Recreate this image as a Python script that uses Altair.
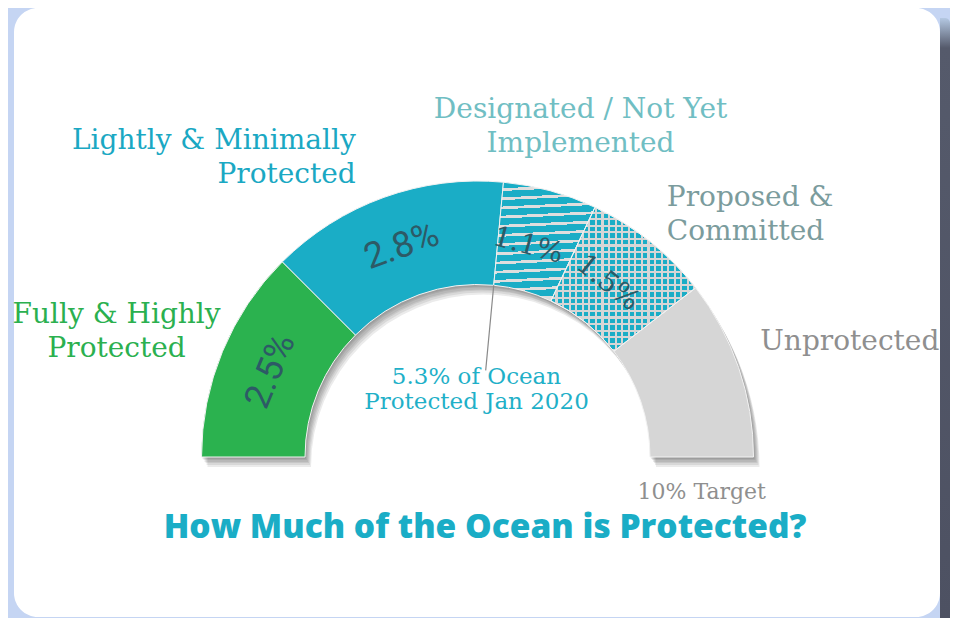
import math
import pandas as pd
import altair as alt

# ---------------- data ----------------
categories = [
    "Fully & Highly Protected",
    "Lightly & Minimally Protected",
    "Designated / Not Yet Implemented",
    "Proposed & Committed",
    "Unprotected",
]
values = [2.5, 2.8, 1.1, 1.5, 2.1]
label_text = [
    "Fully & Highly\nProtected",
    "Lightly & Minimally\nProtected",
    "Designated / Not Yet\nImplemented",
    "Proposed &\nCommitted",
    "Unprotected",
]
target = 10
date_label = "Jan 2020"
title_text = "How Much of the Ocean is Protected?"

# ---------------- derived table ----------------
df = pd.DataFrame({"category": categories, "value": values, "label": label_text})
df["end"] = df["value"].cumsum()
df["start"] = df["end"] - df["value"]
df["mid"] = (df["start"] + df["end"]) / 2
df["angle"] = (df["mid"] / target * 180 - 90) % 360
df["pct"] = [f"{v:.1f}%" for v in values]
protected = values[0] + values[1]

# ---------------- styles ----------------
VIEW_W, VIEW_H = 926, 609
CX, CY = 463.5, 449.0
R_OUT, R_IN = 276, 172.5
TEAL = "#1aadc6"
GREEN = "#2bb24f"
GRAY = "#d6d6d6"
LIGHT = "#dedede"
SEP = "#f2f2f2"
PCT_COLOR = "#2d5a66"
SERIF = "DejaVu Serif"
LABEL_LH = 34

seg_colors = [GREEN, TEAL, TEAL, TEAL, GRAY]
label_style = {
    categories[0]: dict(color="#2bb04f", radius=330, align="center", dx=-56, dy=1),
    categories[1]: dict(color="#1aa8c3", radius=318, align="right", dx=-14, dy=0),
    categories[2]: dict(color="#70bec3", radius=345, align="center", dx=12, dy=3),
    categories[3]: dict(color="#7b9c9d", radius=314, align="left", dx=-7, dy=3),
    categories[4]: dict(color="#8f8f8f", radius=301, align="left", dx=-2, dy=-18),
}

theta_scale = alt.Scale(domain=[0, target], range=[-math.pi / 2, math.pi / 2])


def band_gradient(pattern, n, x2, y2):
    stops = []
    for i in range(n):
        pos = i / n
        for color, frac in pattern:
            stops.append(alt.GradientStop(offset=round(min(pos, 1), 5), color=color))
            pos += frac / n
            stops.append(alt.GradientStop(offset=round(min(pos, 1), 5), color=color))
    return alt.LinearGradient(gradient="linear", stops=stops, x1=0, y1=0, x2=x2, y2=y2)


hatch_fill = band_gradient([(TEAL, 0.7), (LIGHT, 0.3)], 13, 0.04, 1)
dots_rows = band_gradient([(TEAL, 0.68), (GRAY, 0.32)], 22, 0, 1)
dots_cols = band_gradient([("rgba(214,214,214,0)", 0.68), (GRAY, 0.32)], 22, 1, 0)

base = alt.Chart(df)
pos = dict(x=alt.value(CX), y=alt.value(CY))
arc_theta = dict(
    theta=alt.Theta("start:Q", scale=theta_scale, stack=None),
    theta2=alt.Theta2("end:Q"),
)

layers = []

# right-hand card shadow strip
strip_fill = alt.LinearGradient(
    gradient="linear",
    stops=[
        alt.GradientStop(offset=0, color="#b4c8e2"),
        alt.GradientStop(offset=0.05, color="#555a6b"),
        alt.GradientStop(offset=1, color="#4d5162"),
    ],
    x1=0, y1=0, x2=0, y2=1,
)
layers.append(
    alt.Chart(pd.DataFrame({"k": [0]}))
    .mark_rect(fill=strip_fill, cornerRadiusTopRight=10)
    .encode(x=alt.value(VIEW_W), x2=alt.value(VIEW_W + 10), y=alt.value(10), y2=alt.value(VIEW_H + 1))
)

# soft drop shadow of the gauge
shadow_base = base.transform_aggregate(start="min(start)", end="max(end)")
for sdx, sdy in [(1, 2), (2, 3), (3, 5), (4, 6), (5, 8), (6, 10)]:
    layers.append(
        shadow_base.mark_arc(radius=R_OUT, radius2=R_IN, color="#222222", opacity=0.09)
        .encode(x=alt.value(CX + sdx), y=alt.value(CY + sdy), **arc_theta)
    )

# solid segments
layers.append(
    base.transform_filter(
        alt.FieldOneOfPredicate(field="category", oneOf=[categories[0], categories[1], categories[4]])
    )
    .mark_arc(radius=R_OUT, radius2=R_IN, stroke=SEP, strokeWidth=1)
    .encode(
        color=alt.Color("category:N", scale=alt.Scale(domain=categories, range=seg_colors), legend=None),
        **arc_theta, **pos,
    )
)

# hatched segment
layers.append(
    base.transform_filter(alt.datum.category == categories[2])
    .mark_arc(radius=R_OUT, radius2=R_IN, fill=hatch_fill, stroke=SEP, strokeWidth=1)
    .encode(**arc_theta, **pos)
)

# dotted segment (rows + columns)
for g in (dots_rows, dots_cols):
    layers.append(
        base.transform_filter(alt.datum.category == categories[3])
        .mark_arc(radius=R_OUT, radius2=R_IN, fill=g, stroke=SEP, strokeWidth=1)
        .encode(**arc_theta, **pos)
    )

# marker line at the protected total
layers.append(
    base.transform_filter(alt.datum.category == categories[1])
    .mark_arc(radius=R_IN, radius2=87, fillOpacity=0, stroke="#8a8a8a", strokeWidth=1.2)
    .encode(
        theta=alt.Theta("end:Q", scale=theta_scale, stack=None),
        theta2=alt.Theta2("end:Q"),
        **pos,
    )
)

# percentage labels on the ring
pct_theta = alt.Theta("mid:Q", scale=theta_scale, stack=None)
layers.append(
    base.transform_filter(
        alt.FieldOneOfPredicate(field="category", oneOf=[categories[0], categories[1]])
    )
    .mark_text(radius=224, font="Roboto", fontSize=36, color=PCT_COLOR, align="center", baseline="middle")
    .encode(theta=pct_theta, text="pct:N", angle=alt.Angle("angle:Q", scale=None), **pos)
)
layers.append(
    base.transform_filter(
        alt.FieldOneOfPredicate(field="category", oneOf=[categories[2], categories[3]])
    )
    .mark_text(radius=212, dx=-7, dy=-5, font=SERIF, fontSize=28, color=PCT_COLOR,
               align="center", baseline="middle")
    .encode(theta=pct_theta, text="pct:N", angle=alt.Angle("angle:Q", scale=None), **pos)
)

# category labels around the gauge
for cat, txt in zip(categories, label_text):
    st = label_style[cat]
    n_lines = txt.count("\n") + 1
    layers.append(
        base.transform_filter(alt.datum.category == cat)
        .mark_text(
            radius=st["radius"], align=st["align"], baseline="middle",
            dx=st["dx"], dy=st["dy"] - (n_lines - 1) * LABEL_LH / 2,
            font=SERIF, fontSize=28, color=st["color"], lineBreak="\n", lineHeight=LABEL_LH,
        )
        .encode(theta=pct_theta, text="label:N", **pos)
    )

# target label at the end of the scale
layers.append(
    base.transform_filter(alt.datum.category == categories[-1])
    .mark_text(radius=(R_OUT + R_IN) / 2, dy=35, font=SERIF, fontSize=22, color="#8f8f8f",
               align="center", baseline="middle")
    .encode(
        theta=alt.Theta("end:Q", scale=theta_scale, stack=None),
        text=alt.value(f"{target}% Target"),
        **pos,
    )
)

# centre annotation
layers.append(
    alt.Chart(pd.DataFrame({"t": [f"{protected:.1f}% of Ocean\nProtected {date_label}"]}))
    .mark_text(font=SERIF, fontSize=23, color="#1fb0c8", align="center", baseline="middle",
               lineBreak="\n", lineHeight=25, dx=-1, dy=-80)
    .encode(text="t:N", **pos)
)

# title
layers.append(
    alt.Chart(pd.DataFrame({"t": [title_text]}))
    .mark_text(font="Open Sans", fontWeight=800, fontSize=33.5, color=TEAL, align="center",
               baseline="alphabetic")
    .encode(text="t:N", x=alt.value(471), y=alt.value(530))
)

chart = (
    alt.layer(*layers)
    .properties(
        width=VIEW_W,
        height=VIEW_H,
        padding={"left": 6, "top": 0, "right": 10, "bottom": 1},
        autosize=alt.AutoSizeParams(type="none"),
        background="#c5d5f3",
    )
    .configure_view(fill="white", cornerRadius=24, stroke="white", strokeWidth=0)
)

chart.save("out.html", embed_options={"renderer": "svg", "actions": False})
